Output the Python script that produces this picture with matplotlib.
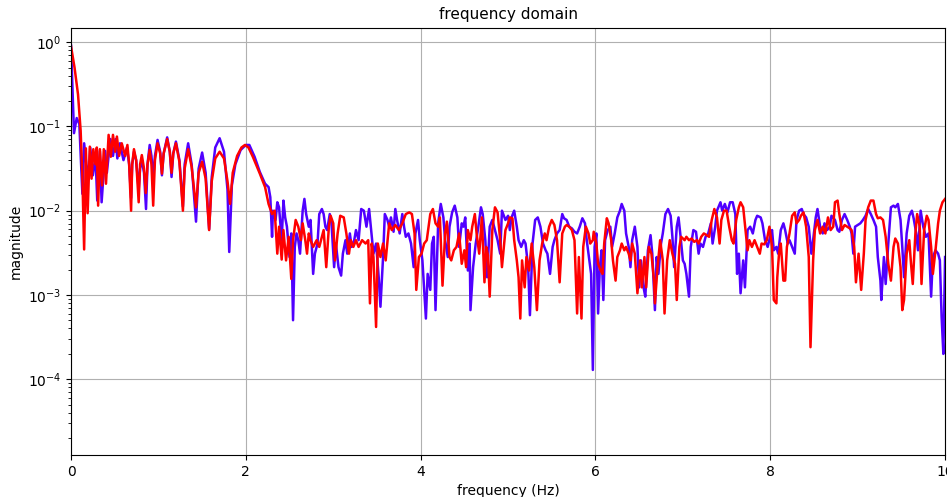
import numpy as np
import matplotlib
matplotlib.use('Agg')
import matplotlib.pyplot as plt

# values, magnitudes given as log10
blue_freq = [
    0.0, 0.015, 0.034, 0.065, 0.095, 0.13, 0.15, 0.175, 0.20, 0.22, 0.25, 0.28, 0.30, 0.33, 0.35, 0.39,
    0.41, 0.45, 0.48, 0.51, 0.53, 0.56, 0.60, 0.64, 0.665, 0.687, 0.70, 0.72, 0.745, 0.774, 0.79, 0.81,
    0.835, 0.858, 0.875, 0.90, 0.92, 0.94, 0.96, 0.99, 1.02, 1.04, 1.06, 1.10, 1.13, 1.15, 1.17, 1.20,
    1.24, 1.28, 1.30, 1.34, 1.38, 1.43, 1.46, 1.50, 1.54, 1.58, 1.61, 1.65, 1.70, 1.75, 1.79, 1.81,
    1.84, 1.88, 1.94, 2.00, 2.04, 2.10, 2.16, 2.22, 2.26, 2.28, 2.30, 2.31, 2.34, 2.36, 2.38, 2.41,
    2.43, 2.45, 2.47, 2.50, 2.52, 2.54, 2.56, 2.58, 2.60, 2.62, 2.65, 2.67, 2.69, 2.72, 2.74, 2.77,
    2.79, 2.82, 2.84, 2.87, 2.89, 2.91, 2.93, 2.96, 2.98, 3.01, 3.03, 3.06, 3.09, 3.11, 3.14, 3.16,
    3.19, 3.21, 3.24, 3.26, 3.29, 3.32, 3.35, 3.38, 3.41, 3.43, 3.46, 3.49, 3.52, 3.54, 3.57, 3.59,
    3.62, 3.64, 3.66, 3.69, 3.71, 3.73, 3.76, 3.79, 3.81, 3.83, 3.86, 3.89, 3.92, 3.94, 3.97, 3.99,
    4.02, 4.06, 4.08, 4.11, 4.13, 4.15, 4.17, 4.20, 4.23, 4.26, 4.28, 4.31, 4.33, 4.36, 4.39, 4.42,
    4.44, 4.47, 4.49, 4.51, 4.54, 4.56, 4.57, 4.60, 4.63, 4.66, 4.69, 4.71, 4.74, 4.76, 4.79, 4.82,
    4.85, 4.88, 4.91, 4.93, 4.97, 5.00, 5.02, 5.04, 5.07, 5.10, 5.12, 5.15, 5.18, 5.20, 5.23, 5.25,
    5.28, 5.31, 5.34, 5.37, 5.40, 5.43, 5.45, 5.48, 5.51, 5.53, 5.56, 5.59, 5.62, 5.64, 5.67, 5.70,
    5.73, 5.76, 5.79, 5.82, 5.85, 5.88, 5.90, 5.93, 5.95, 5.97, 5.99, 6.01, 6.03, 6.05, 6.07, 6.09,
    6.11, 6.14, 6.17, 6.19, 6.22, 6.25, 6.28, 6.30, 6.33, 6.35, 6.38, 6.40, 6.42, 6.45, 6.48, 6.50,
    6.52, 6.55, 6.57, 6.60, 6.63, 6.65, 6.68, 6.70, 6.72, 6.75, 6.77, 6.80, 6.83, 6.86, 6.88, 6.90,
    6.93, 6.95, 6.97, 7.00, 7.02, 7.04, 7.07, 7.09, 7.12, 7.15, 7.18, 7.20, 7.23, 7.26, 7.29, 7.32,
    7.34, 7.37, 7.39, 7.43, 7.45, 7.48, 7.51, 7.54, 7.57, 7.60, 7.62, 7.64, 7.66, 7.69, 7.71, 7.74,
    7.77, 7.80, 7.83, 7.85, 7.89, 7.91, 7.94, 7.97, 8.00, 8.02, 8.04, 8.07, 8.09, 8.12, 8.15, 8.17,
    8.20, 8.22, 8.25, 8.28, 8.30, 8.33, 8.36, 8.38, 8.41, 8.44, 8.47, 8.49, 8.52, 8.54, 8.57, 8.60,
    8.62, 8.65, 8.68, 8.70, 8.74, 8.77, 8.79, 8.82, 8.85, 8.88, 8.91, 8.93, 8.95, 8.97, 9.00, 9.03,
    9.06, 9.09, 9.12, 9.15, 9.18, 9.21, 9.23, 9.26, 9.27, 9.30, 9.32, 9.35, 9.38, 9.41, 9.43, 9.46,
    9.49, 9.51, 9.53, 9.56, 9.59, 9.62, 9.64, 9.67, 9.69, 9.72, 9.75, 9.78, 9.81, 9.84, 9.86, 9.89,
    9.92, 9.94, 9.96, 9.98, 10.0,
]
blue_log = [
    -0.04, -0.5, -1.08, -0.90, -0.97, -1.80, -1.20, -1.45, -1.60, -1.25, -1.58, -1.35, -1.88, -1.29, -1.90, -1.29,
    -1.55, -1.15, -1.35, -1.15, -1.38, -1.20, -1.40, -1.25, -1.45, -1.85, -1.45, -1.30, -1.40, -1.75, -1.50, -1.40,
    -1.55, -1.98, -1.45, -1.22, -1.35, -1.62, -1.35, -1.16, -1.30, -1.58, -1.32, -1.13, -1.30, -1.60, -1.32, -1.18,
    -1.40, -1.95, -1.45, -1.20, -1.45, -2.13, -1.50, -1.31, -1.55, -2.22, -1.60, -1.25, -1.14, -1.30, -1.75, -2.49,
    -1.70, -1.45, -1.28, -1.22, -1.22, -1.36, -1.54, -1.68, -1.72, -1.84, -2.31, -2.0, -2.11, -1.90, -1.96, -2.35,
    -1.88, -2.08, -2.19, -2.55, -2.27, -3.30, -2.43, -2.27, -2.35, -2.51, -2.0, -1.86, -2.04, -2.19, -2.11, -2.75,
    -2.51, -2.39, -2.04, -1.98, -2.04, -2.19, -2.23, -2.04, -2.15, -2.67, -2.39, -2.67, -2.77, -2.51, -2.35, -2.51,
    -2.27, -2.43, -2.35, -2.23, -2.35, -1.98, -2.0, -2.19, -1.98, -2.19, -2.51, -2.39, -2.79, -3.14, -2.55, -2.04,
    -2.11, -2.19, -2.08, -2.25, -1.98, -2.11, -2.27, -2.04, -2.19, -2.31, -2.27, -2.39, -2.67, -2.27, -2.11, -2.35,
    -2.59, -3.28, -2.75, -2.94, -2.39, -2.31, -3.18, -2.15, -1.92, -2.08, -2.35, -2.55, -2.19, -2.02, -1.94, -2.08,
    -2.43, -2.15, -2.19, -2.08, -2.71, -2.39, -3.18, -2.67, -2.39, -2.19, -1.96, -2.04, -2.35, -2.79, -2.19, -2.11,
    -2.23, -2.35, -2.51, -2.0, -2.11, -2.06, -2.23, -2.08, -2.0, -2.19, -2.35, -2.43, -2.35, -2.39, -2.67, -3.24,
    -2.39, -2.11, -2.08, -2.19, -2.39, -2.47, -2.51, -2.75, -2.43, -2.35, -2.27, -2.23, -2.04, -2.09, -2.11, -2.19,
    -2.21, -2.25, -2.27, -2.19, -2.09, -2.15, -2.35, -2.59, -2.75, -3.89, -2.43, -2.27, -3.22, -2.67, -2.47, -3.06,
    -2.35, -2.23, -2.19, -2.43, -2.27, -2.08, -2.0, -1.92, -2.0, -2.27, -2.43, -2.67, -2.35, -2.19, -2.43, -2.91,
    -2.59, -2.91, -3.02, -2.47, -2.29, -2.51, -3.18, -2.55, -2.75, -2.39, -2.27, -2.04, -1.98, -2.06, -2.31, -2.67,
    -2.19, -2.08, -2.27, -2.59, -2.63, -2.75, -3.02, -2.43, -2.23, -2.25, -2.51, -2.39, -2.43, -2.31, -2.27, -2.15,
    -2.39, -2.19, -2.0, -1.90, -2.0, -1.92, -2.02, -1.90, -1.90, -2.04, -2.75, -2.51, -2.98, -2.59, -2.91, -2.23,
    -2.19, -2.27, -2.11, -2.06, -2.08, -2.15, -2.35, -2.43, -2.30, -2.23, -2.47, -2.43, -2.51, -2.23, -2.15, -2.23,
    -2.39, -2.35, -2.43, -2.51, -2.11, -2.0, -1.98, -2.04, -2.08, -2.19, -2.51, -2.35, -2.08, -1.98, -2.19, -2.27,
    -2.15, -2.23, -2.19, -2.06, -2.11, -2.23, -2.25, -2.11, -2.04, -2.11, -2.19, -2.27, -2.51, -2.19, -2.17, -2.15,
    -2.11, -2.06, -1.98, -2.04, -2.11, -2.19, -2.55, -2.83, -3.06, -2.55, -2.87, -2.39, -1.96, -1.94, -1.96, -1.92,
    -2.11, -2.43, -2.79, -2.27, -2.06, -2.0, -2.09, -2.27, -2.47, -2.0, -2.19, -2.31, -2.27, -3.02, -2.55, -2.47,
    -2.51, -2.59, -3.26, -3.70, -2.55,
]

red_freq = [
    0.0, 0.04, 0.08, 0.11, 0.13, 0.15, 0.17, 0.19, 0.215, 0.235, 0.255, 0.28, 0.295, 0.31, 0.33, 0.355,
    0.375, 0.40, 0.43, 0.455, 0.48, 0.505, 0.525, 0.55, 0.58, 0.62, 0.645, 0.665, 0.687, 0.70, 0.72, 0.745,
    0.774, 0.79, 0.81, 0.835, 0.855, 0.875, 0.90, 0.92, 0.94, 0.96, 0.99, 1.02, 1.04, 1.06, 1.10, 1.13,
    1.15, 1.17, 1.20, 1.24, 1.28, 1.30, 1.34, 1.38, 1.43, 1.46, 1.50, 1.54, 1.58, 1.61, 1.65, 1.70,
    1.75, 1.79, 1.82, 1.85, 1.90, 1.95, 1.99, 2.03, 2.08, 2.16, 2.22, 2.26, 2.30, 2.33, 2.36, 2.38,
    2.41, 2.43, 2.46, 2.49, 2.52, 2.54, 2.57, 2.60, 2.63, 2.65, 2.68, 2.70, 2.72, 2.74, 2.77, 2.81,
    2.84, 2.87, 2.89, 2.92, 2.95, 2.97, 3.00, 3.02, 3.05, 3.08, 3.12, 3.15, 3.18, 3.20, 3.23, 3.26,
    3.29, 3.33, 3.37, 3.40, 3.42, 3.44, 3.46, 3.49, 3.51, 3.54, 3.57, 3.60, 3.64, 3.67, 3.71, 3.75,
    3.79, 3.83, 3.87, 3.90, 3.93, 3.95, 3.98, 4.01, 4.04, 4.07, 4.08, 4.11, 4.14, 4.17, 4.20, 4.22,
    4.25, 4.28, 4.30, 4.33, 4.35, 4.38, 4.41, 4.44, 4.47, 4.50, 4.52, 4.54, 4.57, 4.59, 4.62, 4.64,
    4.67, 4.70, 4.73, 4.75, 4.77, 4.79, 4.82, 4.85, 4.88, 4.91, 4.93, 4.97, 5.00, 5.02, 5.05, 5.07,
    5.10, 5.12, 5.14, 5.16, 5.19, 5.21, 5.24, 5.27, 5.30, 5.33, 5.36, 5.39, 5.42, 5.44, 5.47, 5.50,
    5.53, 5.56, 5.59, 5.62, 5.65, 5.67, 5.70, 5.73, 5.76, 5.79, 5.81, 5.84, 5.86, 5.89, 5.92, 5.94,
    5.97, 5.98, 6.01, 6.03, 6.06, 6.08, 6.10, 6.13, 6.15, 6.18, 6.20, 6.23, 6.25, 6.28, 6.30, 6.33,
    6.35, 6.38, 6.40, 6.42, 6.45, 6.48, 6.51, 6.53, 6.56, 6.58, 6.61, 6.64, 6.67, 6.68, 6.71, 6.74,
    6.77, 6.79, 6.82, 6.85, 6.88, 6.91, 6.93, 6.96, 6.98, 7.02, 7.04, 7.07, 7.10, 7.13, 7.16, 7.18,
    7.21, 7.24, 7.27, 7.30, 7.33, 7.36, 7.39, 7.42, 7.44, 7.47, 7.50, 7.53, 7.56, 7.58, 7.61, 7.64,
    7.66, 7.69, 7.72, 7.74, 7.76, 7.79, 7.82, 7.85, 7.88, 7.90, 7.93, 7.96, 7.99, 8.02, 8.04, 8.07,
    8.08, 8.10, 8.12, 8.15, 8.17, 8.19, 8.22, 8.25, 8.28, 8.30, 8.33, 8.35, 8.38, 8.41, 8.44, 8.46,
    8.49, 8.51, 8.54, 8.57, 8.60, 8.63, 8.66, 8.69, 8.72, 8.74, 8.77, 8.79, 8.82, 8.85, 8.88, 8.91,
    8.93, 8.96, 8.98, 9.01, 9.04, 9.07, 9.09, 9.12, 9.15, 9.18, 9.21, 9.23, 9.26, 9.29, 9.32, 9.35,
    9.38, 9.41, 9.43, 9.46, 9.49, 9.51, 9.53, 9.56, 9.59, 9.61, 9.63, 9.66, 9.68, 9.71, 9.73, 9.76,
    9.79, 9.81, 9.84, 9.86, 9.89, 9.92, 9.94, 9.97, 10.0,
]
red_log = [
    -0.05, -0.30, -0.62, -1.05, -1.6, -2.46, -1.26, -2.03, -1.24, -1.62, -1.27, -1.45, -1.25, -1.94, -1.27, -1.70,
    -1.27, -1.68, -1.10, -1.36, -1.10, -1.30, -1.12, -1.35, -1.20, -1.35, -1.22, -1.45, -2.0, -1.45, -1.27, -1.40,
    -1.90, -1.45, -1.34, -1.50, -1.79, -1.45, -1.28, -1.45, -1.94, -1.40, -1.20, -1.32, -1.56, -1.32, -1.15, -1.30,
    -1.55, -1.32, -1.20, -1.42, -2.0, -1.50, -1.27, -1.48, -1.96, -1.55, -1.42, -1.62, -2.23, -1.65, -1.38, -1.30,
    -1.38, -1.65, -1.92, -1.55, -1.35, -1.25, -1.22, -1.25, -1.36, -1.56, -1.72, -1.92, -2.04, -2.0, -2.51, -2.19,
    -2.58, -2.23, -2.59, -2.31, -2.81, -2.35, -2.11, -2.19, -2.35, -2.15, -2.35, -2.51, -2.27, -2.35, -2.43, -2.35,
    -2.43, -2.31, -2.23, -2.67, -2.19, -2.06, -2.15, -2.59, -2.27, -2.06, -2.08, -2.27, -2.51, -2.35, -2.43, -2.35,
    -2.43, -2.35, -2.39, -2.35, -3.10, -2.39, -2.55, -3.38, -2.39, -2.55, -2.39, -2.59, -2.15, -2.23, -2.17, -2.23,
    -2.15, -2.04, -2.02, -2.04, -2.27, -2.94, -2.55, -2.51, -2.39, -2.35, -2.27, -2.04, -1.98, -2.15, -2.19, -2.08,
    -2.89, -2.27, -2.13, -2.55, -2.59, -2.47, -2.43, -2.27, -2.63, -2.47, -2.67, -2.23, -2.35, -2.19, -2.04, -2.27,
    -2.51, -2.08, -2.85, -2.43, -2.53, -3.02, -2.23, -1.96, -2.02, -2.35, -2.67, -2.23, -2.15, -2.08, -2.09, -2.35,
    -2.59, -2.79, -3.28, -2.59, -2.91, -2.55, -2.71, -2.39, -2.67, -3.18, -2.59, -2.39, -2.27, -2.35, -2.19, -2.11,
    -2.17, -2.35, -2.85, -2.27, -2.19, -2.17, -2.19, -2.23, -2.35, -3.22, -2.55, -3.28, -2.43, -2.19, -2.27, -2.39,
    -2.35, -2.25, -2.39, -2.63, -2.71, -2.75, -2.39, -2.09, -2.15, -2.35, -2.59, -2.83, -2.55, -2.47, -2.39, -2.47,
    -2.43, -2.51, -2.59, -2.39, -2.51, -2.98, -2.59, -2.91, -2.55, -2.91, -2.43, -2.51, -2.83, -3.10, -2.67, -2.35,
    -2.59, -3.22, -2.59, -2.35, -2.51, -2.63, -3.06, -2.43, -2.31, -2.35, -2.31, -2.35, -2.33, -2.37, -2.35, -2.39,
    -2.31, -2.27, -2.29, -2.31, -2.11, -1.98, -2.08, -2.39, -2.11, -2.0, -2.0, -2.19, -2.35, -2.39, -2.11, -1.96,
    -1.90, -1.96, -2.27, -2.47, -2.35, -2.43, -2.35, -2.43, -2.51, -2.39, -2.40, -2.35, -2.19, -2.43, -3.06, -3.10,
    -2.79, -2.51, -2.39, -2.83, -2.83, -2.43, -2.27, -2.06, -2.02, -2.15, -2.11, -2.06, -2.02, -2.19, -2.55, -3.62,
    -2.59, -2.23, -2.11, -2.27, -2.19, -2.27, -2.08, -2.23, -2.19, -1.90, -1.88, -2.04, -2.23, -2.17, -2.19, -2.21,
    -2.23, -2.43, -2.85, -2.51, -2.94, -2.51, -2.11, -1.96, -1.88, -1.88, -2.04, -2.09, -2.08, -2.11, -2.31, -2.63,
    -2.83, -2.43, -2.33, -2.39, -2.67, -3.18, -3.06, -2.51, -2.35, -2.63, -2.87, -2.27, -2.04, -2.19, -2.87, -2.23,
    -2.06, -2.11, -2.43, -2.75, -2.47, -2.15, -2.0, -1.90, -1.86,
]

blue_mag = 10 ** np.array(blue_log)
red_mag = 10 ** np.array(red_log)

fig = plt.figure(figsize=(9.47, 4.97), dpi=100)
ax = fig.add_axes([0.075, 0.0845, 0.923, 0.8595])

ax.plot(blue_freq, blue_mag, color='#5000ff', lw=1.8)
ax.plot(red_freq, red_mag, color='#ff0000', lw=1.8)

ax.set_yscale('log')
ax.set_xlim(0, 10)
ax.set_ylim(1.26e-5, 1.48)
ax.grid(True, color='#b0b0b0', lw=0.8)

ax.set_title('frequency domain', fontsize=11)
ax.set_xlabel('frequency (Hz)', fontsize=10)
ax.set_ylabel('magnitude', fontsize=10)
ax.tick_params(labelsize=10)

fig.savefig('out.png', dpi=100)
